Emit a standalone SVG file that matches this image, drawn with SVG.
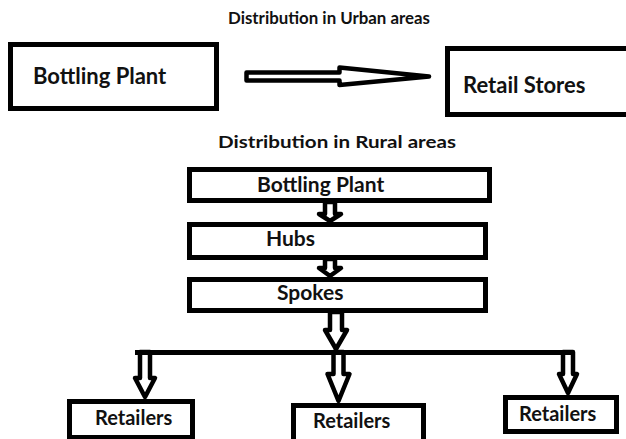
<svg xmlns="http://www.w3.org/2000/svg" width="626" height="439" viewBox="0 0 626 439">
<style>
.box{fill:#fff;stroke:#000;stroke-width:5}
.t{font-family:Lato,"Liberation Sans",sans-serif;font-weight:bold;fill:#111}
.title{font-size:17px}
.lbl{font-size:21px}
.sm{font-size:20px}
.arr{fill:#fff;stroke:#000;stroke-width:4.5;stroke-linejoin:round}
.ln{fill:none;stroke:#000;stroke-width:5}
</style>
<rect width="626" height="439" fill="#fff"/>
<text class="t title" x="329" y="24" text-anchor="middle" textLength="202" lengthAdjust="spacingAndGlyphs">Distribution in Urban areas</text>
<text class="t title" x="337" y="148" text-anchor="middle" textLength="238" lengthAdjust="spacingAndGlyphs">Distribution in Rural areas</text>
<g id="urban-plant"><rect class="box" x="10.5" y="44.5" width="206" height="64"/><text class="t lbl" x="33" y="84" style="font-size:22px">Bottling Plant</text></g>
<g id="urban-retail"><rect class="box" x="447.5" y="48.5" width="190" height="66"/><text class="t lbl" x="463" y="93" style="font-size:22px">Retail Stores</text></g>
<g id="rural-plant"><rect class="box" x="189.5" y="169.5" width="300" height="31"/><text class="t lbl" x="257" y="192">Bottling Plant</text></g>
<g id="hubs"><rect class="box" x="189.5" y="224.5" width="296" height="33"/><text class="t lbl" x="266" y="246">Hubs</text></g>
<g id="spokes"><rect class="box" x="189.5" y="279.5" width="296" height="31"/><text class="t lbl" x="277" y="300">Spokes</text></g>
<g id="retailers-1"><rect class="box" x="69.5" y="401.5" width="123" height="36"/><text class="t sm" x="95" y="425">Retailers</text></g>
<g id="retailers-2"><rect class="box" x="293.5" y="405.5" width="130" height="36"/><text class="t sm" x="313" y="428">Retailers</text></g>
<g id="retailers-3"><rect class="box" x="505.5" y="397.5" width="111" height="34"/><text class="t sm" x="519" y="421">Retailers</text></g>
<g id="connectors">
<path class="arr" d="M246.5,72.5 L339.5,72.5 L339.5,67.5 L429,76.5 L339.5,85 L339.5,80.5 L246.5,80.5 Z"/>
<path class="arr" d="M325,202 L325,214 L319,214 L330,221 L341,214 L335,214 L335,202 Z"/>
<path class="arr" d="M325,259 L325,268 L319,268 L330,276 L341,268 L335,268 L335,259 Z"/>
<path class="arr" d="M330,312 L330,330 L325,330 L336,349 L347,330 L342,330 L342,312 Z"/>
<path class="arr" d="M140,352 L140,378 L135,378 L145,397 L155,378 L150,378 L150,352 Z"/>
<path class="arr" d="M333.5,352 L333.5,374 L327.5,374 L338.5,401 L349.5,374 L343.5,374 L343.5,352 Z"/>
<path class="arr" d="M563,352 L563,374 L559,374 L568,393 L577,374 L573,374 L573,352 Z"/>
<path class="ln" d="M137.5,355 L137.5,352.5 L573,352.5"/>
</g>
</svg>
